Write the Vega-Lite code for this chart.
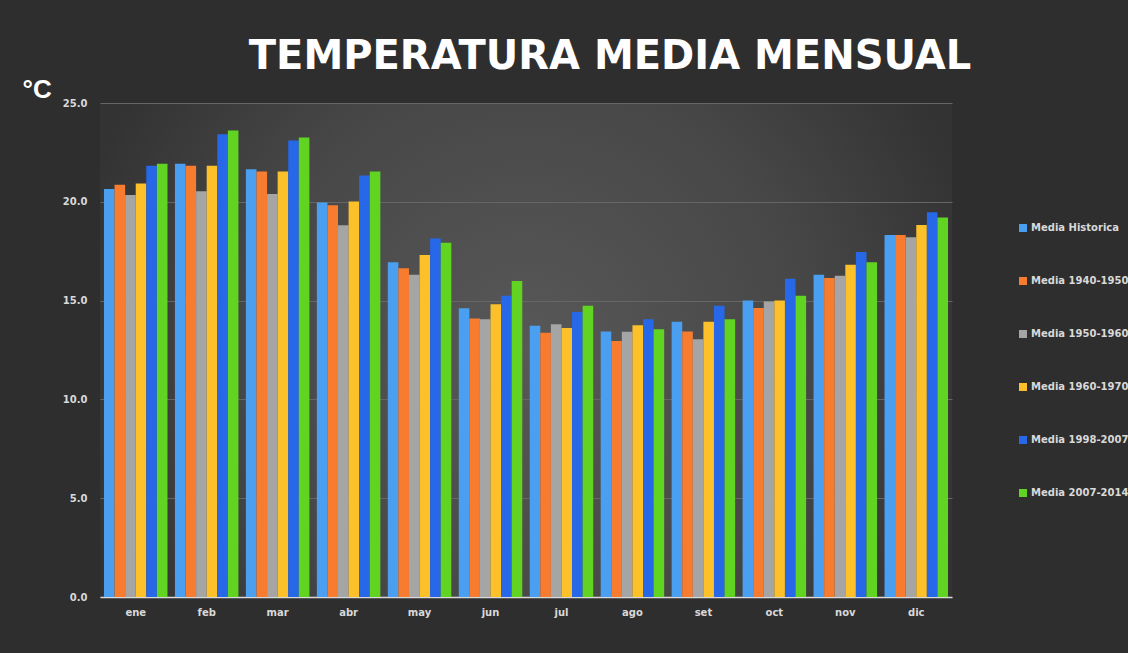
{
  "$schema": "https://vega.github.io/schema/vega-lite/v6.json",
  "autosize": {"type": "none"},
  "width": 852,
  "height": 494,
  "padding": {"left": 100, "top": 103, "right": 176, "bottom": 56},
  "background": "#2e2e2e",
  "config": {
    "view": {
      "stroke": null,
      "fill": {
        "gradient": "radial",
        "x1": 0.5, "y1": 0.5, "r1": 0,
        "x2": 0.5, "y2": 0.5, "r2": 0.55,
        "stops": [
          {"offset": 0, "color": "#585858"},
          {"offset": 0.6, "color": "#474747"},
          {"offset": 1, "color": "#333333"}
        ]
      }
    },
    "font": "DejaVu Sans"
  },
  "title": {
    "text": "TEMPERATURA MEDIA MENSUAL",
    "font": "DejaVu Sans",
    "fontSize": 40,
    "fontWeight": "bold",
    "color": "#ffffff",
    "anchor": "middle",
    "dx": 84,
    "dy": 31,
    "offset": 30
  },
  "data": {
    "values": [
      {"mes": "ene", "serie": "Media Historica", "temp": 20.65},
      {"mes": "ene", "serie": "Media 1940-1950", "temp": 20.86},
      {"mes": "ene", "serie": "Media 1950-1960", "temp": 20.35},
      {"mes": "ene", "serie": "Media 1960-1970", "temp": 20.92},
      {"mes": "ene", "serie": "Media 1998-2007", "temp": 21.83},
      {"mes": "ene", "serie": "Media 2007-2014", "temp": 21.92},
      {"mes": "feb", "serie": "Media Historica", "temp": 21.92},
      {"mes": "feb", "serie": "Media 1940-1950", "temp": 21.83},
      {"mes": "feb", "serie": "Media 1950-1960", "temp": 20.54},
      {"mes": "feb", "serie": "Media 1960-1970", "temp": 21.83},
      {"mes": "feb", "serie": "Media 1998-2007", "temp": 23.42},
      {"mes": "feb", "serie": "Media 2007-2014", "temp": 23.61},
      {"mes": "mar", "serie": "Media Historica", "temp": 21.65},
      {"mes": "mar", "serie": "Media 1940-1950", "temp": 21.53},
      {"mes": "mar", "serie": "Media 1950-1960", "temp": 20.4},
      {"mes": "mar", "serie": "Media 1960-1970", "temp": 21.53},
      {"mes": "mar", "serie": "Media 1998-2007", "temp": 23.1},
      {"mes": "mar", "serie": "Media 2007-2014", "temp": 23.25},
      {"mes": "abr", "serie": "Media Historica", "temp": 19.97},
      {"mes": "abr", "serie": "Media 1940-1950", "temp": 19.83},
      {"mes": "abr", "serie": "Media 1950-1960", "temp": 18.81},
      {"mes": "abr", "serie": "Media 1960-1970", "temp": 20.01},
      {"mes": "abr", "serie": "Media 1998-2007", "temp": 21.33},
      {"mes": "abr", "serie": "Media 2007-2014", "temp": 21.53},
      {"mes": "may", "serie": "Media Historica", "temp": 16.94},
      {"mes": "may", "serie": "Media 1940-1950", "temp": 16.64},
      {"mes": "may", "serie": "Media 1950-1960", "temp": 16.31},
      {"mes": "may", "serie": "Media 1960-1970", "temp": 17.31},
      {"mes": "may", "serie": "Media 1998-2007", "temp": 18.14},
      {"mes": "may", "serie": "Media 2007-2014", "temp": 17.93},
      {"mes": "jun", "serie": "Media Historica", "temp": 14.61},
      {"mes": "jun", "serie": "Media 1940-1950", "temp": 14.1},
      {"mes": "jun", "serie": "Media 1950-1960", "temp": 14.05},
      {"mes": "jun", "serie": "Media 1960-1970", "temp": 14.81},
      {"mes": "jun", "serie": "Media 1998-2007", "temp": 15.24},
      {"mes": "jun", "serie": "Media 2007-2014", "temp": 15.99},
      {"mes": "jul", "serie": "Media Historica", "temp": 13.73},
      {"mes": "jul", "serie": "Media 1940-1950", "temp": 13.37},
      {"mes": "jul", "serie": "Media 1950-1960", "temp": 13.8},
      {"mes": "jul", "serie": "Media 1960-1970", "temp": 13.61},
      {"mes": "jul", "serie": "Media 1998-2007", "temp": 14.42},
      {"mes": "jul", "serie": "Media 2007-2014", "temp": 14.74},
      {"mes": "ago", "serie": "Media Historica", "temp": 13.44},
      {"mes": "ago", "serie": "Media 1940-1950", "temp": 12.95},
      {"mes": "ago", "serie": "Media 1950-1960", "temp": 13.42},
      {"mes": "ago", "serie": "Media 1960-1970", "temp": 13.75},
      {"mes": "ago", "serie": "Media 1998-2007", "temp": 14.05},
      {"mes": "ago", "serie": "Media 2007-2014", "temp": 13.55},
      {"mes": "set", "serie": "Media Historica", "temp": 13.93},
      {"mes": "set", "serie": "Media 1940-1950", "temp": 13.44},
      {"mes": "set", "serie": "Media 1950-1960", "temp": 13.05},
      {"mes": "set", "serie": "Media 1960-1970", "temp": 13.93},
      {"mes": "set", "serie": "Media 1998-2007", "temp": 14.74},
      {"mes": "set", "serie": "Media 2007-2014", "temp": 14.05},
      {"mes": "oct", "serie": "Media Historica", "temp": 15.0},
      {"mes": "oct", "serie": "Media 1940-1950", "temp": 14.63},
      {"mes": "oct", "serie": "Media 1950-1960", "temp": 14.95},
      {"mes": "oct", "serie": "Media 1960-1970", "temp": 15.0},
      {"mes": "oct", "serie": "Media 1998-2007", "temp": 16.11},
      {"mes": "oct", "serie": "Media 2007-2014", "temp": 15.25},
      {"mes": "nov", "serie": "Media Historica", "temp": 16.31},
      {"mes": "nov", "serie": "Media 1940-1950", "temp": 16.14},
      {"mes": "nov", "serie": "Media 1950-1960", "temp": 16.26},
      {"mes": "nov", "serie": "Media 1960-1970", "temp": 16.82},
      {"mes": "nov", "serie": "Media 1998-2007", "temp": 17.46},
      {"mes": "nov", "serie": "Media 2007-2014", "temp": 16.94},
      {"mes": "dic", "serie": "Media Historica", "temp": 18.32},
      {"mes": "dic", "serie": "Media 1940-1950", "temp": 18.32},
      {"mes": "dic", "serie": "Media 1950-1960", "temp": 18.2},
      {"mes": "dic", "serie": "Media 1960-1970", "temp": 18.83},
      {"mes": "dic", "serie": "Media 1998-2007", "temp": 19.47},
      {"mes": "dic", "serie": "Media 2007-2014", "temp": 19.2}
    ]
  },
  "mark": {"type": "bar"},
  "encoding": {
    "x": {
      "field": "mes",
      "type": "nominal",
      "sort": ["ene", "feb", "mar", "abr", "may", "jun", "jul", "ago", "set", "oct", "nov", "dic"],
      "scale": {"paddingInner": 0.105, "paddingOuter": 0.056},
      "axis": {
        "title": null,
        "labelAngle": 0,
        "labelFont": "DejaVu Sans",
        "labelFontSize": 10,
        "labelFontWeight": "bold",
        "labelColor": "#d9d9d9",
        "labelPadding": 10,
        "ticks": false,
        "domainColor": "#d9d9d9",
        "domainWidth": 1.5
      }
    },
    "xOffset": {
      "field": "serie",
      "type": "nominal",
      "sort": ["Media Historica", "Media 1940-1950", "Media 1950-1960", "Media 1960-1970", "Media 1998-2007", "Media 2007-2014"],
      "scale": {"paddingInner": 0, "paddingOuter": 0}
    },
    "y": {
      "field": "temp",
      "type": "quantitative",
      "scale": {"domain": [0, 25], "nice": false},
      "axis": {
        "title": "°C",
        "titleAngle": 0,
        "titleAlign": "left",
        "titleBaseline": "alphabetic",
        "titleX": -78,
        "titleY": -6,
        "titleFont": "Liberation Sans",
        "titleFontSize": 26,
        "titleFontWeight": "bold",
        "titleColor": "#ffffff",
        "values": [0, 5, 10, 15, 20, 25],
        "format": ".1f",
        "labelFont": "DejaVu Sans",
        "labelFontSize": 10,
        "labelFontWeight": "bold",
        "labelColor": "#d9d9d9",
        "labelPadding": 13,
        "ticks": false,
        "domain": false,
        "grid": true,
        "gridColor": "#666666",
        "gridWidth": 1
      }
    },
    "color": {
      "field": "serie",
      "type": "nominal",
      "sort": ["Media Historica", "Media 1940-1950", "Media 1950-1960", "Media 1960-1970", "Media 1998-2007", "Media 2007-2014"],
      "scale": {
        "domain": ["Media Historica", "Media 1940-1950", "Media 1950-1960", "Media 1960-1970", "Media 1998-2007", "Media 2007-2014"],
        "range": ["#4a9ff0", "#f77c30", "#a5a5a5", "#fcc02a", "#2668e8", "#60d420"]
      },
      "legend": {
        "title": null,
        "orient": "none",
        "legendX": 918,
        "legendY": 120,
        "padding": 0,
        "symbolType": "square",
        "symbolSize": 64,
        "symbolStrokeWidth": 0,
        "symbolOffset": 0,
        "labelFont": "DejaVu Sans",
        "labelFontSize": 10,
        "labelFontWeight": "bold",
        "labelColor": "#d9d9d9",
        "labelOffset": 3,
        "labelLimit": 200,
        "rowPadding": 43
      }
    }
  }
}
